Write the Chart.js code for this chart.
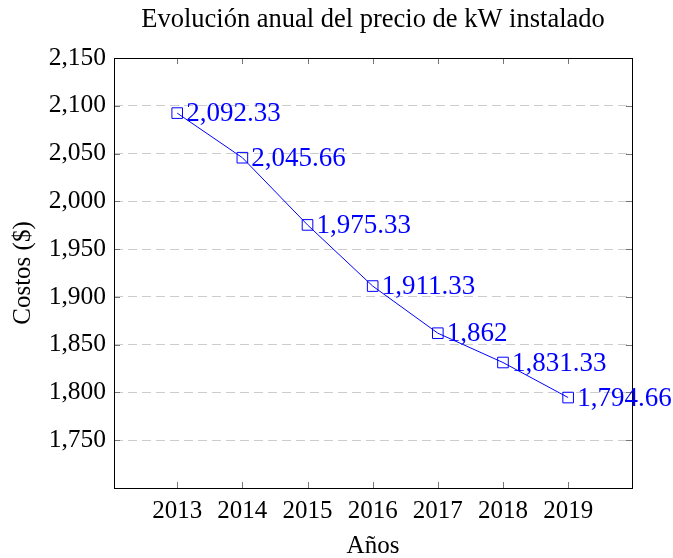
<!DOCTYPE html>
<html>
<head>
<meta charset="utf-8">
<script src="https://cdn.jsdelivr.net/npm/chart.js@4"></script>
<style>
  html, body { margin: 0; padding: 0; background: #fff; }
  #wrap { width: 673px; height: 558px; }
</style>
</head>
<body>
<div id="wrap"><canvas id="chart" width="673" height="558"></canvas></div>
<script>
// ===== data =====
const years = [2013, 2014, 2015, 2016, 2017, 2018, 2019];
const costos = [2092.33, 2045.66, 1975.33, 1911.33, 1862, 1831.33, 1794.66];
const yTicks = [1750, 1800, 1850, 1900, 1950, 2000, 2050, 2100, 2150];
const chartTitle = "Evolución anual del precio de kW instalado";

const SERIF = "'Liberation Serif', 'DejaVu Serif', serif";
const BLUE = "#0000ff";

function fmt(v) {
  return v.toLocaleString("en-US", { maximumFractionDigits: 2 });
}

// frame + inward ticks (pgfplots look), title and point labels
const framePlugin = {
  id: "frame",
  afterDatasetsDraw(chart) {
    const { ctx, chartArea: a, scales } = chart;
    ctx.save();
    ctx.strokeStyle = "#777";
    ctx.lineWidth = 1;
    ctx.beginPath();
    years.forEach(v => {
      const x = Math.round(scales.x.getPixelForValue(v)) + 0.5;
      ctx.moveTo(x, a.bottom); ctx.lineTo(x, a.bottom - 6);
      ctx.moveTo(x, a.top); ctx.lineTo(x, a.top + 6);
    });
    yTicks.forEach(v => {
      const y = Math.round(scales.y.getPixelForValue(v)) + 0.5;
      ctx.moveTo(a.left, y); ctx.lineTo(a.left + 6, y);
      ctx.moveTo(a.right, y); ctx.lineTo(a.right - 6, y);
    });
    ctx.stroke();
    ctx.strokeStyle = "#000";
    ctx.strokeRect(Math.round(a.left) + 0.5, Math.round(a.top) + 0.5,
      Math.round(a.right - a.left), Math.round(a.bottom - a.top));

    // title centred over the plot
    ctx.fillStyle = "#000";
    ctx.font = "26.5px " + SERIF;
    ctx.textAlign = "center";
    ctx.textBaseline = "middle";
    ctx.fillText(chartTitle, (a.left + a.right) / 2, 20);

    // value labels
    ctx.fillStyle = BLUE;
    ctx.font = "27px " + SERIF;
    ctx.textAlign = "left";
    const meta = chart.getDatasetMeta(0);
    meta.data.forEach((pt, i) => {
      ctx.fillText(fmt(costos[i]), pt.x + 9, pt.y + 1);
    });
    ctx.restore();
  },
};

new Chart(document.getElementById("chart"), {
  type: "line",
  data: {
    datasets: [{
      data: years.map((y, i) => ({ x: y, y: costos[i] })),
      borderColor: BLUE,
      backgroundColor: "transparent",
      borderWidth: 1,
      tension: 0,
      pointStyle: "rect",
      pointRadius: 7.5,
      pointBorderColor: BLUE,
      pointBorderWidth: 1,
      pointBackgroundColor: "transparent",
    }],
  },
  options: {
    responsive: false,
    animation: false,
    layout: { padding: { left: 0, right: 41, top: 58, bottom: 0 } },
    plugins: {
      legend: { display: false },
      tooltip: { enabled: false },
      title: { display: false },
    },
    scales: {
      x: {
        type: "linear",
        min: 2012.03,
        max: 2019.98,
        afterBuildTicks: s => { s.ticks = years.map(v => ({ value: v })); },
        afterFit: s => { s.height = 70; },
        grid: { display: false, drawTicks: false },
        border: { display: false },
        ticks: {
          color: "#000",
          padding: 8,
          font: { family: SERIF, size: 25 },
          callback: v => String(v),
        },
        title: {
          display: true,
          text: "Años",
          color: "#000",
          font: { family: SERIF, size: 25, lineHeight: 1 },
          padding: { top: 12, bottom: -1 },
        },
      },
      y: {
        min: 1700,
        max: 2150,
        afterBuildTicks: s => { s.ticks = yTicks.map(v => ({ value: v })); },
        afterFit: s => { s.width = 114; },
        grid: {
          drawTicks: false,
          color: c => (c.tick && c.tick.value === 2150 ? "transparent" : "#cccccc"),
          lineWidth: 1,
        },
        border: { display: false, dash: [9, 5] },
        ticks: {
          color: "#000",
          padding: 8,
          font: { family: SERIF, size: 25.5 },
          callback: v => fmt(v),
        },
        title: {
          display: true,
          text: "Costos ($)",
          color: "#000",
          font: { family: SERIF, size: 25 },
          padding: { top: 8, bottom: 4 },
        },
      },
    },
  },
  plugins: [framePlugin],
});
</script>
</body>
</html>
